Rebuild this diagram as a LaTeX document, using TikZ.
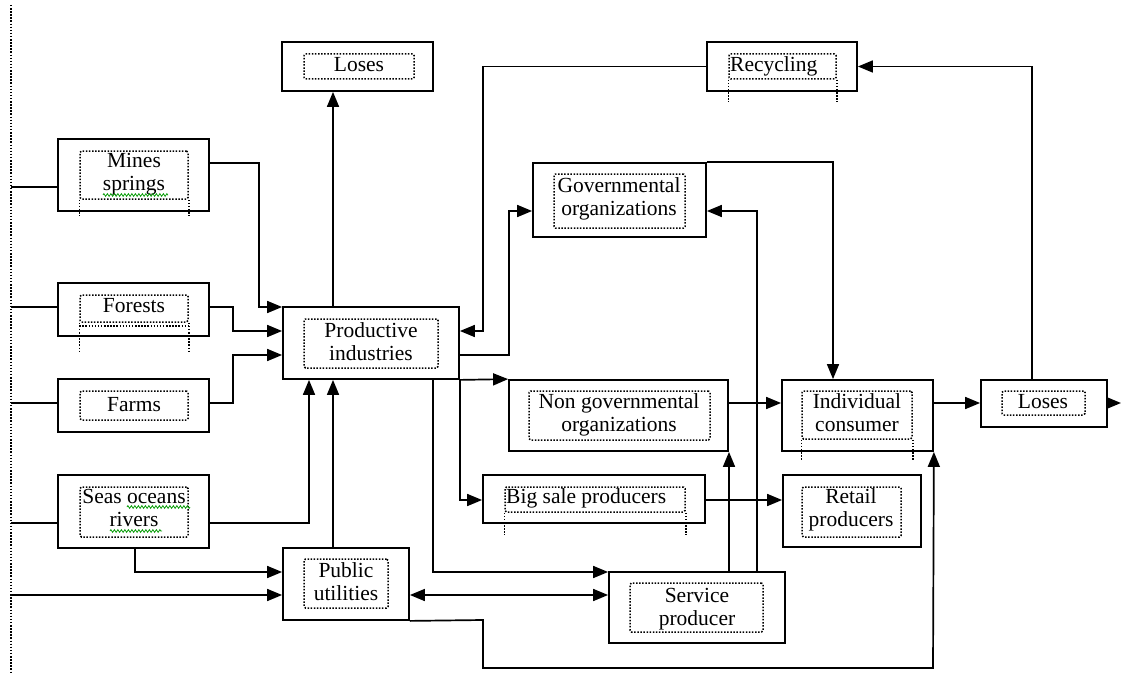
\documentclass[tikz,border=0pt]{standalone}
\usepackage{fontspec}
\setmainfont{Liberation Serif}
\usetikzlibrary{arrows.meta,fit,decorations.pathmorphing}
\newcommand\lbfont{\fontsize{21.5}{23.5}\selectfont}
\newcommand\twol[2]{\begin{tabular}[t]{@{}c@{}}#1\\#2\end{tabular}}

\begin{document}
\begin{tikzpicture}[x=1pt,y=-1pt,
  blk/.style={draw, line width=1.8pt, inner sep=0pt},
  inbox/.style={draw, line width=1.5pt, dash pattern=on 1.5pt off 1.6pt, rounded corners=1.5pt, inner sep=0pt},
  dotl/.style={line width=1.5pt, dash pattern=on 1.5pt off 1.6pt},
  lbl/.style={inner sep=0pt, anchor=base, font=\lbfont},
  conn/.style={line width=1.7pt},
  arr/.style={conn, -{Triangle[length=15pt,width=12pt]}},
  darr/.style={conn, {Triangle[length=15pt,width=12pt]}-{Triangle[length=15pt,width=12pt]}},
  squig/.style={draw=green!60!black, line width=0.8pt, decorate,
    decoration={zigzag, segment length=3.5pt, amplitude=1.3pt}}]
\useasboundingbox (0,0) rectangle (1121,674);

% dotted margin rail on the left
\coordinate (railtop) at (11,5);
\coordinate (railbot) at (11,673);
\draw[dotl] (railtop) -- (railbot);
\coordinate (outR) at (1121,403);

% ---- blocks: frame, inner dotted frame, label ----
\node[blk, fit={(282,42)(433,91)}] (losestop) {};
\node[inbox, fit={(304,54)(414,79)}] (losestop-i) {};
\node[lbl] (losestop-t) at (359,72) {Loses};

\node[blk, fit={(707,42)(857,91)}] (recyc) {};
\node[inbox, fit={(729,54)(836,79)}] (recyc-i) {};
\draw[dotl] (recyc-i.south west) -- ++(0,22) (recyc-i.south east) -- ++(0,22);
\node[lbl, anchor=base west] (recyc-t) at (730,72) {Recycling};

\node[blk, fit={(58,139)(209,211)}] (mines) {};
\node[inbox, fit={(80,151)(188,199)}] (mines-i) {};
\draw[dotl] (mines-i.south west) -- ++(0,16) (mines-i.south east) -- ++(0,16);
\node[lbl] (mines-t) at (134,167) {\twol{Mines}{springs}};
\draw[squig] (103,195) -- (168,195);

\node[blk, fit={(533,163)(706,237)}] (gov) {};
\node[inbox, fit={(554,174)(685,228)}] (gov-i) {};
\node[lbl] (gov-t) at (619,192) {\twol{Governmental}{organizations}};

\node[blk, fit={(58,283)(209,336)}] (forests) {};
\node[inbox, fit={(80,295)(188,322)}] (forests-i) {};
\draw[dotl] (forests-i.south west) -- ++(0,31) (forests-i.south east) -- ++(0,31);
\draw[dotl] ([yshift=-3pt]forests-i.south west) -- ([yshift=-3pt]forests-i.south east);
\node[lbl] (forests-t) at (134,312) {Forests};

\node[blk, fit={(283,307)(459,379)}] (prod) {};
\node[inbox, fit={(304,319)(438,368)}] (prod-i) {};
\node[lbl] (prod-t) at (371,337) {\twol{Productive}{industries}};

\node[blk, fit={(58,379)(209,432)}] (farms) {};
\node[inbox, fit={(80,391)(188,420)}] (farms-i) {};
\node[lbl] (farms-t) at (134,411) {Farms};

\node[blk, fit={(509,380)(728,451)}] (nongov) {};
\node[inbox, fit={(529,391)(710,440)}] (nongov-i) {};
\node[lbl] (nongov-t) at (619,408) {\twol{Non governmental}{organizations}};

\node[blk, fit={(782,380)(933,451)}] (indiv) {};
\node[inbox, fit={(802,391)(912,439)}] (indiv-i) {};
\draw[dotl] (indiv-i.south west) -- ++(0,21) (indiv-i.south east) -- ++(0,21);
\node[lbl] (indiv-t) at (857,408) {\twol{Individual}{consumer}};

\node[blk, fit={(981,380)(1107,427)}] (losesr) {};
\node[inbox, fit={(1002,391)(1085,415)}] (losesr-i) {};
\node[lbl] (losesr-t) at (1043,408) {Loses};

\node[blk, fit={(58,475)(209,548)}] (seas) {};
\node[inbox, fit={(80,487)(188,537)}] (seas-i) {};
\node[lbl] (seas-t) at (134,503) {\twol{Seas oceans}{rivers}};
\draw[squig] (127,507) -- (190,507);
\draw[squig] (110,531) -- (162,531);

\node[blk, fit={(483,475)(705,523)}] (bigsale) {};
\node[inbox, fit={(505,487)(685,512)}] (bigsale-i) {};
\draw[dotl] (bigsale-i.south west) -- ++(0,22) (bigsale-i.south east) -- ++(0,22);
\node[lbl, anchor=base west] (bigsale-t) at (506,503) {Big sale producers};

\node[blk, fit={(783,475)(921,547)}] (retail) {};
\node[inbox, fit={(802,487)(901,537)}] (retail-i) {};
\node[lbl] (retail-t) at (851,503) {\twol{Retail}{producers}};

\node[blk, fit={(283,548)(409,620)}] (pub) {};
\node[inbox, fit={(304,559)(388,608)}] (pub-i) {};
\node[lbl] (pub-t) at (346,577) {\twol{Public}{utilities}};

\node[blk, fit={(609,572)(785,643)}] (serv) {};
\node[inbox, fit={(630,583)(763,632)}] (serv-i) {};
\node[lbl] (serv-t) at (697,602) {\twol{Service}{producer}};

% ---- supply lines from the rail ----
\draw[conn] (railtop |- 0,187) -- (mines.west |- 0,187);
\draw[conn] (railtop |- 0,307) -- (forests.west |- 0,307);
\draw[conn] (railtop |- 0,403) -- (farms.west |- 0,403);
\draw[conn] (railtop |- 0,523) -- (seas.west |- 0,523);
\draw[arr] (railtop |- 0,595) -- (pub.west |- 0,595);

% ---- resources into production ----
\draw[arr] (mines.east |- 0,163) -| (259,307) -- (prod.west |- 0,307);
\draw[arr] (forests.east |- 0,307) -| (233,331) -- (prod.west |- 0,331);
\draw[arr] (farms.east |- 0,403) -| (233,355) -- (prod.west |- 0,355);
\draw[arr] (seas.east |- 0,523) -| (prod.south -| 309,0);
\draw[arr] (pub.north -| 333,0) -- (prod.south -| 333,0);
\draw[arr] (seas.south -| 135,0) |- (pub.west |- 0,572);
\draw[arr] (prod.north -| 333,0) -- (losestop.south -| 333,0);

% ---- production outputs ----
\draw[arr] (prod.south east) -- (nongov.north west);
\draw[arr] (prod.south east) |- (bigsale.west |- 0,500);
\draw[arr] (prod.south -| 433,0) |- (serv.west |- 0,572);
\draw[arr] (prod.east |- 0,355) -| (509,211) -- (gov.west |- 0,211);
\draw[arr] (recyc.west) -| (483,331) -- (prod.east |- 0,331);

% ---- services and consumers ----
\draw[darr] (pub.east |- 0,595) -- (serv.west |- 0,595);
\draw[arr] (pub.south east) -- (483,620) |- (933,668) -- (indiv.south east);
\draw[arr] (serv.north -| 757,0) |- (gov.east |- 0,211);
\draw[arr] (serv.north -| 729,0) -- (nongov.south -| 729,0);
\draw[arr] (gov.north east) -| (indiv.north -| 833,0);
\draw[arr] (nongov.east |- 0,403) -- (indiv.west |- 0,403);
\draw[arr] (bigsale.east |- 0,500) -- (retail.west |- 0,500);
\draw[arr] (indiv.east |- 0,403) -- (losesr.west |- 0,403);
\draw[arr] (losesr.east |- 0,403) -- (outR);
\draw[arr] (losesr.north -| 1032,0) |- (recyc.east);

\end{tikzpicture}
\end{document}
